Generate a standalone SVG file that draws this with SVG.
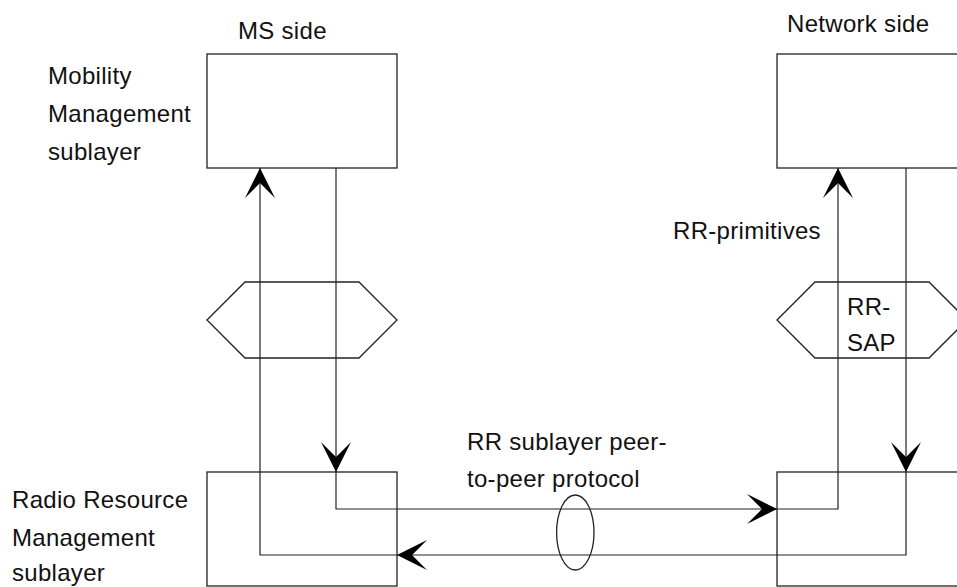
<svg xmlns="http://www.w3.org/2000/svg" width="957" height="587" viewBox="0 0 957 587">
<style>
.box{fill:none;stroke:#222;stroke-width:1.3}
.ln{fill:none;stroke:#222;stroke-width:1.2}
.t{font-family:"Liberation Sans",Arial,sans-serif;font-size:24px;letter-spacing:0.3px;fill:#111}
</style>
<defs>
<marker id="ah" markerUnits="userSpaceOnUse" viewBox="-31 -16 32 32" markerWidth="32" markerHeight="32" refX="0" refY="0" orient="auto">
<path d="M0,0 L-30,-15 L-15,0 L-30,15 Z" fill="#000"/>
</marker>
</defs>
<rect width="957" height="587" fill="#fff"/>
<g id="labels">
<text class="t" x="238" y="39">MS side</text>
<text class="t" x="787" y="32">Network side</text>
<text class="t" x="48" y="84">Mobility</text>
<text class="t" x="48" y="122">Management</text>
<text class="t" x="48" y="160">sublayer</text>
<text class="t" x="12" y="508">Radio Resource</text>
<text class="t" x="12" y="546">Management</text>
<text class="t" x="12" y="581">sublayer</text>
</g>
<g id="ms-mm"><rect class="box" x="207" y="54" width="190" height="114"/></g>
<g id="net-mm"><rect class="box" x="777" y="54" width="200" height="114"/></g>
<g id="ms-rr"><rect class="box" x="207" y="472" width="190" height="114"/></g>
<g id="net-rr"><rect class="box" x="777" y="472" width="200" height="114"/></g>
<g id="ms-sap"><polygon class="box" points="207,320 245,282 359,282 397,320 359,358 245,358"/></g>
<g id="net-sap"><polygon class="box" points="777,320 815,282 929,282 967,320 929,358 815,358"/>
<text class="t" x="847" y="315">RR-</text>
<text class="t" x="847" y="351">SAP</text>
</g>
<g id="connectors">
<path class="ln" d="M336,168 V472" marker-end="url(#ah)"/>
<path class="ln" d="M336,472 V509 H777" marker-end="url(#ah)"/>
<path class="ln" d="M777,509 H838 V168" marker-end="url(#ah)"/>
<path class="ln" d="M906,168 V472" marker-end="url(#ah)"/>
<path class="ln" d="M906,472 V555 H397" marker-end="url(#ah)"/>
<path class="ln" d="M397,555 H260 V168" marker-end="url(#ah)"/>
<ellipse class="box" cx="575.3" cy="532.5" rx="18.7" ry="37.5"/>
<text class="t" x="673" y="239">RR-primitives</text>
<text class="t" x="467" y="450">RR sublayer peer-</text>
<text class="t" x="467" y="487">to-peer protocol</text>
</g>
</svg>
